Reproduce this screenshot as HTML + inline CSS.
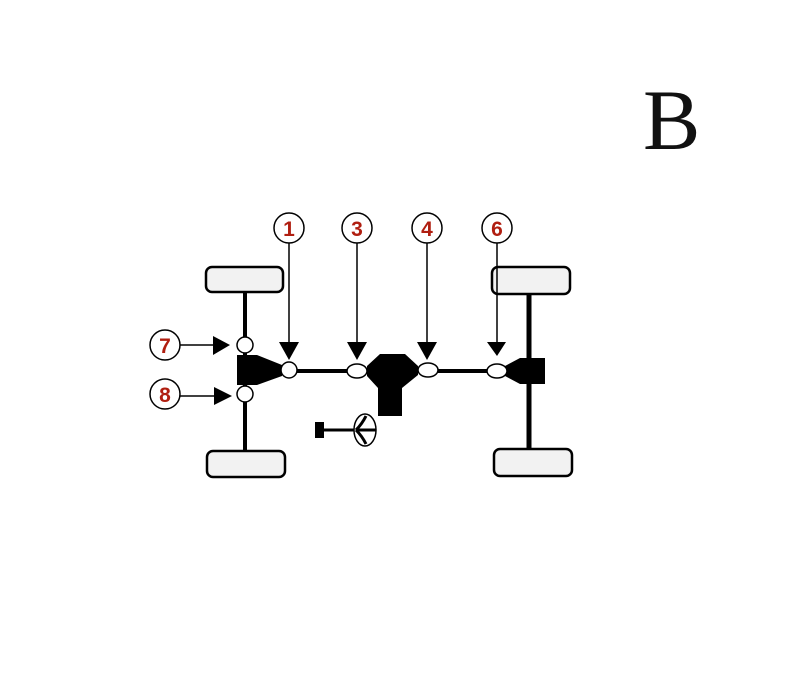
<!DOCTYPE html>
<html><head><style>body{margin:0;background:#fff}</style></head><body>
<svg width="800" height="695" viewBox="0 0 800 695" xmlns="http://www.w3.org/2000/svg">
<rect width="800" height="695" fill="#fff"/>
<text x="643" y="149" font-family="Liberation Serif, serif" font-size="86" fill="#111">B</text>
<g stroke="#000" stroke-width="2.5" fill="#f2f2f2">
<rect x="206" y="267" width="77" height="25" rx="6"/>
<rect x="207" y="451" width="78" height="26" rx="6"/>
<rect x="492" y="267" width="78" height="27" rx="6"/>
<rect x="494" y="449" width="78" height="27" rx="6"/>
</g>
<g stroke="#000" fill="none">
<line x1="245" y1="292" x2="245" y2="451" stroke-width="4"/>
<line x1="529" y1="294" x2="529" y2="449" stroke-width="5"/>
<line x1="297" y1="371" x2="497" y2="371" stroke-width="4"/>
<line x1="320" y1="430" x2="360" y2="430" stroke-width="3"/>
</g>
<g fill="#000">
<polygon points="237,355 257,355 282,365 282,376 257,385 237,385"/>
<polygon points="505,366 520,358 545,358 545,384 520,384 505,376"/>
<polygon points="367,366 380,354 405,354 418,366 418,375 402,388 402,416 378,416 378,388 367,376"/>
<rect x="315" y="422" width="9" height="16"/>
</g>
<g stroke="#000" stroke-width="1.5" fill="#fff">
<circle cx="245" cy="345" r="8"/>
<circle cx="245" cy="394" r="8"/>
<circle cx="289" cy="370" r="8"/>
<ellipse cx="357" cy="371" rx="10" ry="7"/>
<ellipse cx="428" cy="370" rx="10" ry="7"/>
<ellipse cx="497" cy="371" rx="10" ry="7"/>
<ellipse cx="365" cy="430" rx="11" ry="16"/>
</g>
<path d="M356,430 Q362,424 366,416 M356,430 Q362,436 366,444 M356,430 L376,430" stroke="#000" stroke-width="3" fill="none"/>
<g stroke="#000" stroke-width="1.5">
<line x1="289" y1="243" x2="289" y2="345"/>
<line x1="357" y1="243" x2="357" y2="345"/>
<line x1="427" y1="243" x2="427" y2="345"/>
<line x1="497" y1="243" x2="497" y2="345"/>
<line x1="180" y1="345" x2="215" y2="345"/>
<line x1="180" y1="396" x2="215" y2="396"/>
</g>
<g fill="#000">
<polygon points="279,342 299,342 289,360"/>
<polygon points="347,342 367,342 357,360"/>
<polygon points="417,342 437,342 427,360"/>
<polygon points="487,342 506,342 497,356"/>
<polygon points="213,336 230,345 213,355"/>
<polygon points="214,387 232,396 214,405"/>
</g>
<g stroke="#000" stroke-width="1.5" fill="#fff">
<circle cx="289" cy="228" r="15"/><circle cx="357" cy="228" r="15"/>
<circle cx="427" cy="228" r="15"/><circle cx="497" cy="228" r="15"/>
<circle cx="165" cy="345" r="15"/><circle cx="165" cy="394" r="15"/>
</g>
<g font-family="Liberation Sans, sans-serif" font-weight="bold" font-size="21" fill="#b01e10" text-anchor="middle">
<text x="289" y="236">1</text><text x="357" y="236">3</text>
<text x="427" y="236">4</text><text x="497" y="236">6</text>
<text x="165" y="353">7</text><text x="165" y="402">8</text>
</g>
</svg>
</body></html>
